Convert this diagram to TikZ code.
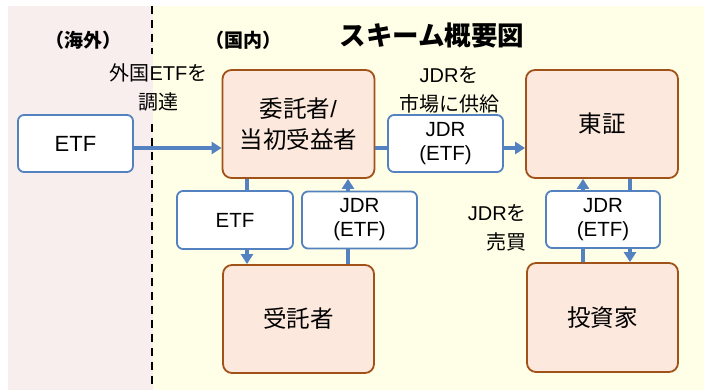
\documentclass[tikz,border=0pt]{standalone}
\usepackage{fontspec}
\setmainfont{Liberation Sans}
\newfontfamily\jpf{Noto Sans CJK JP}
\newcommand\JP[1]{{\jpf #1}}
\usetikzlibrary{arrows.meta}
\definecolor{pinkbg}{RGB}{247,238,237}
\definecolor{yelbg}{RGB}{255,255,231}
\definecolor{peach}{RGB}{252,232,220}
\definecolor{brownb}{RGB}{160,82,24}
\definecolor{blueb}{RGB}{84,130,192}
\tikzset{
  bigbox/.style={draw=brownb, line width=1.8pt, fill=peach, rounded corners=9pt,
    minimum width=152pt, minimum height=108pt, align=center, font=\fontsize{23.5}{31}\selectfont, inner sep=0pt},
  smallbox/.style={draw=blueb, line width=1.8pt, fill=white, rounded corners=6pt,
    minimum width=115pt, minimum height=57pt, align=center, font=\fontsize{20.5}{24}\selectfont, inner sep=0pt},
  lbl/.style={align=center, font=\fontsize{20}{29}\selectfont, inner sep=0pt},
  hdr/.style={font=\fontsize{19}{22}\bfseries\selectfont, inner sep=0pt},
  arr/.style={draw=blueb, line width=3.5pt, -{Triangle[length=10pt,width=12pt]}},
  divider/.style={black, line width=2pt, dash pattern=on 8pt off 6pt}
}
\begin{document}
\begin{tikzpicture}[x=1pt,y=-1pt]
\useasboundingbox (0,0) rectangle (704,390);
\fill[white] (0,0) rectangle (704,390);
\fill[pinkbg] (8,6) rectangle (153,390);
\fill[yelbg] (153,6) rectangle (704,390);
\coordinate (d1) at (152,6);
\coordinate (d2) at (152,54);
\coordinate (d3) at (152,124);
\coordinate (d4) at (152,390);
\draw[divider] (d1) -- (d2);
\draw[divider] (d3) -- (d4);

\node[hdr] (hkaigai) at (83,40) {\JP{\bfseries （海外）}};
\node[hdr] (hkokunai) at (243,40) {\JP{\bfseries （国内）}};
\node[font=\fontsize{26.5}{30}\selectfont, inner sep=0pt] (title) at (432,35) {\JP{\bfseries スキーム概要図}};

\node[bigbox] (itaku) at (298.5,124) {\JP{委託者}/\\\JP{当初受益者}};
\node[bigbox] (tosho) at (602,124) {\JP{東証}};
\node[bigbox, minimum width=151pt] (jutaku) at (298.5,319) {\JP{受託者}};
\node[bigbox, minimum width=151pt, minimum height=109pt] (toushi) at (602.5,317.5) {\JP{投資家}};

\node[smallbox, font=\fontsize{22}{24}\selectfont] (etf) at (75.5,143.5) {ETF};

% connectors
\draw[arr] (etf.east |- 0,148) -- (itaku.west |- 0,148);
\draw[arr] (itaku.east |- 0,148) -- (tosho.west |- 0,148);
\draw[arr] (itaku.south -| 247,0) -- (jutaku.north -| 247,0);
\draw[arr] (jutaku.north -| 348,0) -- (itaku.south -| 348,0);
\draw[arr] (toushi.north -| 583,0) -- (tosho.south -| 583,0);
\draw[arr] (tosho.south -| 630,0) -- (toushi.north -| 630,0);

% label boxes
\node[smallbox] (jdr1) at (445.5,143.5) {JDR\\(ETF)};
\node[smallbox, minimum width=116pt, minimum height=58pt] (etf2) at (235,220) {ETF};
\node[smallbox] (jdr2) at (359.5,220) {JDR\\(ETF)};
\node[smallbox, minimum width=114pt] (jdr3) at (603,219.5) {JDR\\(ETF)};

% texts
\node[lbl] (t1) at (158.5,87) {\JP{外国}ETF\JP{を}\\\JP{調達}};
\node[lbl] (t2) at (449,89.5) {JDR\JP{を}\\\JP{市場に供給}};
\node[lbl, align=right, anchor=east] (t3) at (527,227.5) {JDR\JP{を}\\\JP{売買}};
\end{tikzpicture}
\end{document}
